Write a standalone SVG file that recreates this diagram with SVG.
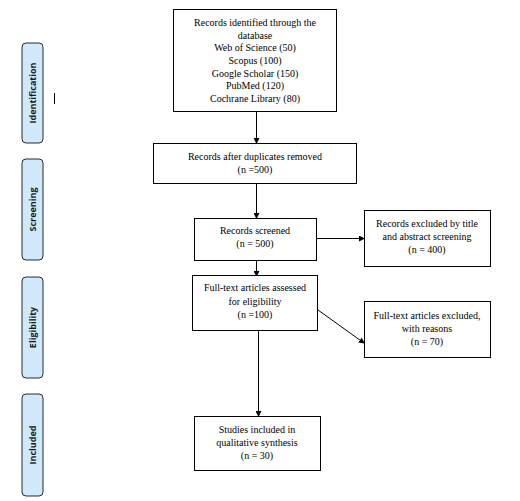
<svg xmlns="http://www.w3.org/2000/svg" width="520" height="501" viewBox="0 0 520 501">
<style>
.box{fill:#fff;stroke:#000;stroke-width:1}
.side{fill:#cfe9fb;stroke:#2b2b2b;stroke-width:1}
.t{font-family:"Liberation Serif","Times New Roman",serif;font-size:10px;fill:#000;text-anchor:middle}
.s{font-family:"Open Sans","DejaVu Sans",sans-serif;font-size:9px;font-weight:bold;fill:#1a1a1a;text-anchor:middle}
.c{stroke:#000;stroke-width:1;fill:none;marker-end:url(#ah)}
</style>
<defs>
<marker id="ah" markerWidth="6" markerHeight="6" refX="5" refY="3" orient="auto" markerUnits="userSpaceOnUse">
<path d="M0,0 L6,3 L0,6 z" fill="#000"/>
</marker>
</defs>
<rect width="520" height="501" fill="#fff"/>
<g id="stage-identification">
<rect class="side" x="22" y="43" width="21" height="100" rx="4"/>
<text class="s" transform="translate(35.5,93) rotate(-90)">Identification</text>
</g>
<g id="stage-screening">
<rect class="side" x="22" y="159" width="21" height="101" rx="4"/>
<text class="s" transform="translate(35.5,209.5) rotate(-90)">Screening</text>
</g>
<g id="stage-eligibility">
<rect class="side" x="22" y="277" width="21" height="101" rx="4"/>
<text class="s" transform="translate(35.5,327.5) rotate(-90)">Eligibility</text>
</g>
<g id="stage-included">
<rect class="side" x="22" y="394" width="21" height="102" rx="4"/>
<text class="s" transform="translate(35.5,445) rotate(-90)">Included</text>
</g>
<line x1="54.5" y1="93" x2="54.5" y2="104" stroke="#000" stroke-width="1"/>
<g id="connectors">
<line class="c" x1="256.5" y1="112" x2="256.5" y2="143"/>
<line class="c" x1="256.5" y1="184" x2="256.5" y2="218"/>
<line class="c" x1="317" y1="238.5" x2="364" y2="238.5"/>
<line class="c" x1="256.5" y1="261" x2="256.5" y2="276"/>
<line class="c" x1="318" y1="310" x2="364" y2="343"/>
<line class="c" x1="258.5" y1="331" x2="258.5" y2="416"/>
</g>
<g id="n1">
<rect class="box" x="173.5" y="9.5" width="163" height="102"/>
<text class="t" x="255" y="26">Records identified through the</text>
<text class="t" x="255" y="39">database</text>
<text class="t" x="255" y="51">Web of Science (50)</text>
<text class="t" x="255" y="64">Scopus (100)</text>
<text class="t" x="255" y="77">Google Scholar (150)</text>
<text class="t" x="255" y="89">PubMed (120)</text>
<text class="t" x="255" y="102">Cochrane Library (80)</text>
</g>
<g id="n2">
<rect class="box" x="153.5" y="143.5" width="203" height="40"/>
<text class="t" x="255" y="160">Records after duplicates removed</text>
<text class="t" x="255" y="173">(n =500)</text>
</g>
<g id="n3">
<rect class="box" x="194.5" y="218.5" width="122" height="42"/>
<text class="t" x="255" y="234">Records screened</text>
<text class="t" x="255" y="247">(n = 500)</text>
</g>
<g id="n4">
<rect class="box" x="364.5" y="210.5" width="126" height="56"/>
<text class="t" x="427" y="227">Records excluded by title</text>
<text class="t" x="427" y="240">and abstract screening</text>
<text class="t" x="427" y="253">(n = 400)</text>
</g>
<g id="n5">
<rect class="box" x="192.5" y="275.5" width="125" height="55"/>
<text class="t" x="255" y="291">Full-text articles assessed</text>
<text class="t" x="255" y="305">for eligibility</text>
<text class="t" x="255" y="318">(n =100)</text>
</g>
<g id="n6">
<rect class="box" x="364.5" y="301.5" width="126" height="56"/>
<text class="t" x="427" y="319">Full-text articles excluded,</text>
<text class="t" x="427" y="332">with reasons</text>
<text class="t" x="427" y="345">(n = 70)</text>
</g>
<g id="n7">
<rect class="box" x="194.5" y="416.5" width="126" height="54"/>
<text class="t" x="257" y="433">Studies included in</text>
<text class="t" x="257" y="446">qualitative synthesis</text>
<text class="t" x="257" y="459">(n = 30)</text>
</g>
</svg>
